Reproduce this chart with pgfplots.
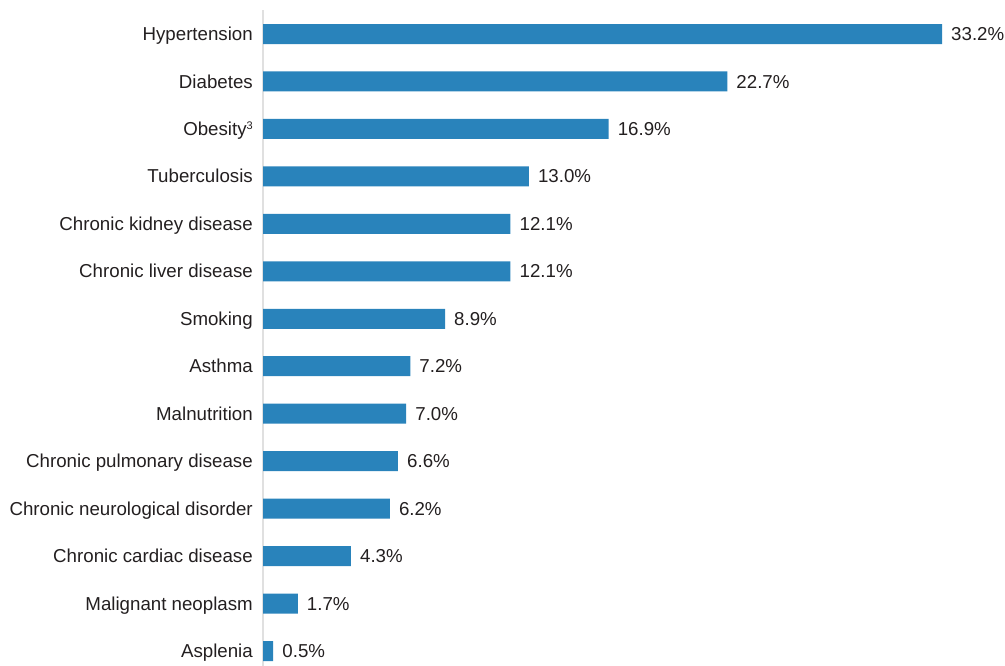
\documentclass[border=0pt]{standalone}
\usepackage{pgfplots}
\pgfplotsset{compat=1.18}
\usepackage{fontspec}
\setmainfont{Liberation Sans}
\definecolor{barblue}{RGB}{41,131,187}
\definecolor{txt}{RGB}{35,31,32}
\begin{document}
\begin{tikzpicture}
\useasboundingbox (0,0) rectangle (1005bp,666bp);
\begin{axis}[
  at={(263bp,0bp)}, anchor=south west,
  scale only axis, width=742bp, height=656bp,
  xmin=0, xmax=36.28,
  ymin=-0.316, ymax=13.506,
  xbar, bar width=20bp,
  axis x line=none,
  axis y line*=left,
  axis line style={-, draw=black!12, line width=1.5bp},
  major tick length=0pt,
  ytick={0,...,13},
  yticklabels={Asplenia, Malignant neoplasm, Chronic cardiac disease, Chronic neurological disorder, Chronic pulmonary disease, Malnutrition, Asthma, Smoking, Chronic liver disease, Chronic kidney disease, Tuberculosis, Obesity{\raisebox{6bp}{\fontsize{11bp}{11bp}\selectfont 3}}, Diabetes, Hypertension},
  yticklabel style={font=\fontsize{18.7bp}{22bp}\selectfont, text=txt, inner sep=0pt, anchor=base east, xshift=-10bp, yshift=-6.6bp},
  nodes near coords={\pgfmathprintnumber[fixed,fixed zerofill,precision=1,assume math mode=true]{\pgfplotspointmeta}\%},
  nodes near coords style={font=\fontsize{18.7bp}{22bp}\selectfont, text=txt, anchor=base west, inner sep=0pt, xshift=9bp, yshift=-6.6bp},
  point meta=x,
  clip=false,
]
\addplot[fill=barblue, draw=none] coordinates {
 (0.5,0) (1.7,1) (4.3,2) (6.2,3) (6.6,4) (7.0,5) (7.2,6) (8.9,7) (12.1,8) (12.1,9) (13.0,10) (16.9,11) (22.7,12) (33.2,13)
};
\end{axis}
\end{tikzpicture}
\end{document}
